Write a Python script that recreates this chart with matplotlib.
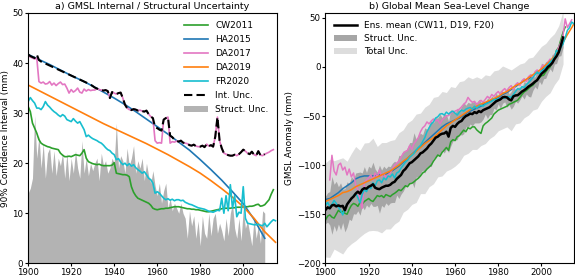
import numpy as np
import matplotlib
matplotlib.use('Agg')
import matplotlib.pyplot as plt

# ---------------- panel a) uncertainties (mm) ----------------
yrs_cw = np.arange(1900, 2015)
cw2011_unc = [31.3, 30.3, 28.0, 27.0, 26.0, 24.7, 24.0, 23.7, 23.5, 23.3,
              23.2, 23.0, 22.9, 22.8, 22.7, 22.0, 21.6, 21.3, 21.3, 21.4,
              21.3, 21.5, 21.7, 21.6, 21.5, 22.0, 22.7, 21.0, 20.3, 20.1,
              19.9, 19.8, 19.7, 19.8, 19.6, 19.5, 19.5, 19.5, 19.5, 19.6,
              20.1, 18.0, 17.9, 17.8, 17.7, 17.7, 17.6, 17.3, 15.3, 14.2,
              13.5, 13.0, 12.8, 12.6, 12.4, 12.2, 12.0, 11.6, 11.0, 10.8,
              10.7, 10.8, 10.9, 10.9, 11.0, 11.0, 11.1, 11.2, 11.3, 11.3,
              11.3, 11.2, 11.1, 11.0, 10.9, 10.9, 10.8, 10.8, 10.7, 10.7,
              10.6, 10.5, 10.4, 10.3, 10.3, 10.4, 10.5, 10.6, 10.7, 10.8,
              10.9, 11.0, 11.0, 11.0, 11.0, 11.1, 11.1, 11.2, 11.2, 11.2,
              11.3, 11.3, 11.3, 11.4, 11.4, 11.5, 11.7, 11.8, 11.4, 11.5,
              11.7, 12.2, 12.7, 13.8, 14.7]

yrs_ha = np.arange(1900, 2011, 5)
ha2015_unc = [41.7, 40.7, 39.7, 38.6, 37.5, 36.5, 35.4, 34.2, 33.0, 31.7,
              30.3, 28.8, 27.3, 25.8, 24.2, 22.6, 20.7, 18.7, 16.6, 14.3,
              11.9, 8.8, 5.0]

yrs_da17 = np.arange(1900, 2015)
da2017_unc = [41.5, 41.2, 41.0, 40.8, 41.0, 36.3, 36.0, 36.2, 35.8, 35.9,
              36.3, 35.6, 36.0, 35.5, 35.9, 36.2, 35.7, 35.8, 35.0, 34.0,
              34.7, 34.2, 34.5, 35.0, 34.2, 34.0, 34.8, 34.4, 34.7, 34.5,
              34.6, 34.6, 34.9, 34.7, 34.6, 34.5, 34.6, 34.4, 33.0, 34.2,
              34.0, 33.8, 34.0, 34.1, 33.0, 31.7, 31.0, 30.7, 30.6, 30.8,
              30.7, 30.5, 30.6, 30.4, 30.3, 30.5, 29.8, 29.3, 29.0, 24.5,
              24.0, 24.1, 24.0, 28.7, 29.0, 29.2, 24.0, 24.3, 24.2, 24.4,
              24.3, 24.5, 24.1, 24.0, 23.9, 23.6, 23.5, 23.7, 23.4, 23.3,
              23.3, 23.5, 23.2, 23.8, 23.4, 23.6, 23.3, 25.3, 29.2, 24.5,
              23.0, 22.0, 21.8, 21.6, 21.5, 21.5, 21.7, 21.5, 21.8, 22.2,
              22.7, 22.4, 22.0, 21.8, 22.3, 21.7, 21.5, 22.4, 21.6, 21.5,
              21.8, 22.0, 22.2, 22.5, 22.7]

yrs_da19 = np.arange(1900, 2016, 5)
da2019_unc = [35.6, 34.5, 33.4, 32.3, 31.2, 30.1, 29.0, 27.9, 26.9, 25.9,
              24.9, 23.9, 22.8, 21.7, 20.5, 19.3, 18.0, 16.5, 14.9, 13.2,
              11.3, 9.0, 6.3, 4.2]

yrs_fr = np.arange(1900, 2016)
fr2020_unc = [32.3, 33.1, 32.5, 32.0, 31.0, 31.0, 30.7, 31.3, 32.3, 31.6,
              31.2, 30.7, 30.3, 30.0, 29.6, 29.3, 29.7, 29.4, 28.7, 28.5,
              28.3, 28.9, 28.4, 28.0, 28.3, 27.5, 26.7, 25.3, 25.6, 25.2,
              24.9, 24.7, 24.5, 24.2, 24.0, 23.6, 23.1, 22.7, 22.5, 22.0,
              21.7, 20.7, 20.9, 20.2, 19.7, 20.0, 19.5, 19.9, 19.4, 19.7,
              19.1, 18.7, 18.4, 18.0, 18.3, 17.7, 17.0, 16.7, 16.0, 14.0,
              14.3, 14.0, 13.5, 13.0, 12.7, 12.9, 12.6, 12.8, 12.5, 12.7,
              12.7, 12.5, 12.6, 12.2, 12.0, 11.8, 11.7, 11.5, 11.3, 11.1,
              11.0, 10.9, 10.8, 10.6, 10.4, 10.3, 10.2, 10.4, 10.6, 10.5,
              13.0, 10.0, 13.5, 10.5, 15.7, 11.0, 13.5, 9.3, 10.2, 10.0,
              15.3, 9.0, 8.0, 7.9, 7.8, 7.7, 7.7, 7.8, 7.6, 7.5,
              8.0, 7.3, 7.8, 8.3, 8.7, 8.5]

yrs_int = np.arange(1900, 2011)
int_unc = [41.7, 41.4, 41.2, 41.0, 41.7, 40.6, 40.3, 40.1, 39.9, 39.7,
           39.5, 39.3, 39.1, 38.9, 38.7, 38.5, 38.3, 38.1, 37.9, 37.7,
           37.5, 37.3, 37.1, 36.9, 36.7, 36.5, 36.3, 36.1, 35.9, 35.7,
           35.4, 35.1, 34.9, 34.7, 34.6, 34.5, 34.6, 34.4, 33.0, 34.2,
           34.0, 33.8, 34.0, 34.1, 33.0, 31.7, 31.0, 30.7, 30.6, 30.8,
           30.7, 30.5, 30.6, 30.4, 30.3, 30.5, 29.8, 29.3, 29.0, 27.2,
           27.0, 26.7, 26.5, 28.7, 29.0, 29.2, 25.5, 25.2, 24.7, 24.5,
           24.3, 24.5, 24.1, 24.0, 23.9, 23.6, 23.5, 23.7, 23.4, 23.3,
           23.3, 23.5, 23.2, 23.8, 23.4, 23.6, 23.3, 25.3, 29.2, 24.5,
           23.0, 22.0, 21.8, 21.6, 21.5, 21.5, 21.7, 21.5, 21.8, 22.2,
           22.7, 22.4, 22.0, 21.8, 22.3, 21.7, 21.5, 22.4, 21.6, 21.5,
           21.8]

yrs_struct = np.arange(1900, 2011)
struct_unc = [14, 15, 17, 29.5, 21, 25.5, 19, 24, 17, 22,
              23, 18, 22.5, 17.5, 21, 19.5, 22, 17, 22, 16.5,
              21, 18, 22.5, 19, 17, 24.5, 18, 21, 17.5, 20,
              18.5, 20, 21, 16.5, 22, 19.5, 20.5, 18, 19, 21,
              20, 28, 19, 21.5, 20.5, 18, 23, 19.5, 21, 23.5,
              18, 20.5, 19, 21, 16.5, 20, 17.5, 16, 18.5, 15.5,
              13.5, 16, 12, 14.5, 16, 11, 13, 10.5, 12, 11,
              10, 12, 10, 9, 5, 10.5, 7.5, 9.5, 5, 8.5,
              3.5, 9.5, 6, 5, 10, 5.5, 9, 10, 6, 8,
              6.5, 4.5, 9, 5.5, 10, 12, 7, 5, 9, 4.5,
              11, 7, 8.5, 6, 3.5, 9, 5, 7.5, 4, 10.5, 10]

# ---------------- panel b) GMSL anomalies (mm) ----------------
yrs_mean = np.arange(1900, 2011)
ens_mean = [-145.6, -143, -144, -141, -140.5, -142, -141, -142, -141.5, -146,
            -140, -137, -134, -132, -129, -127, -129, -125, -123.5, -124,
            -122, -121, -119.5, -123, -124, -124.5, -123, -122, -121, -121,
            -120, -118, -117, -114, -112, -110, -106, -104, -101, -98,
            -97, -95, -93, -91, -88, -87, -85, -83, -80, -78,
            -75, -72, -71, -69, -68, -67.7, -66, -71, -62, -60,
            -61, -58, -56, -55, -52, -50, -49, -47.5, -48, -46,
            -47, -45, -46, -44, -43, -42, -41, -39, -37, -35,
            -34, -33, -31, -30.5, -31, -33, -34, -30, -29, -28.8,
            -27, -25, -23.7, -22, -20, -18.6, -17, -15, -13.5, -10,
            -7, -5, -3, 0, 1.7, 4, 8, 11, 15, 22, 30]

# total uncertainty half width, every second year
yrs_tot = np.arange(1900, 2011, 2)
total_hw = [48, 50, 45, 47, 49, 44, 46, 48, 44, 46,
            45, 47, 43, 46, 44, 45, 43, 45, 42, 44,
            43, 45, 41, 44, 42, 44, 41, 43, 40, 42,
            40, 41, 38, 39, 36, 37, 34, 35, 32, 33,
            31, 32, 30, 31, 29, 30, 28, 29, 27, 29,
            28, 27, 28, 26, 27, 27]

yrs_cw_b = np.arange(1900, 2012)
cw2011 = [-156, -152, -150.7, -153, -154, -150, -146, -148, -147, -149,
          -150, -145, -141, -139, -140, -142, -138, -140, -137, -135.5,
          -134, -136, -137, -134, -131, -132, -131, -133, -130, -131,
          -132, -130, -128.7, -127, -125, -126, -123.6, -121, -122, -119,
          -118.5, -117, -115, -113.4, -111, -108, -106.6, -104, -102, -99.9,
          -96, -93, -89.7, -91, -87, -84.6, -82, -85, -76.2, -74,
          -75, -71.1, -70, -67, -64.3, -66, -62, -63, -61, -61,
          -64, -66, -67.7, -60, -57.6, -56, -54, -52, -48, -46,
          -44, -43, -42, -41, -40, -38, -37.2, -36, -35, -33.8,
          -31, -28, -25.4, -24, -22, -20, -18.6, -16, -13, -11,
          -9, -8.4, -5, -2, 0, 5, 10, 17, 20, 28, 35, 40.7]

yrs_ha_b = np.arange(1900, 2011, 2)
ha2015 = [-135, -134, -131, -128, -124, -121, -118, -114, -112, -111,
          -111, -111, -110, -110, -109, -107, -104, -101, -97, -93,
          -89, -85, -81, -77, -73, -69, -65, -61, -58, -56,
          -54, -52, -49, -46, -44, -42, -40, -37, -35, -33,
          -31, -28, -26, -23, -20, -17, -14, -12, -9, -6,
          -3, 0, 5, 10, 17, 24]

yrs_da17_b = np.arange(1902, 2015)
da2017 = [-115, -90, -106, -110, -100, -98, -105, -102,
          -110, -104, -112, -108, -120, -125, -135, -144, -118, -115,
          -113, -110, -115, -108, -112, -105, -112, -108, -113, -110,
          -108, -104, -100, -98, -96, -92, -88, -86, -85, -80,
          -84, -78, -75, -72, -66, -62, -60, -56, -58, -55,
          -53, -55, -54, -58, -54, -52, -50, -49.5, -47, -46,
          -45, -44, -43, -40.7, -38, -36, -31, -34, -36, -35,
          -38, -36, -34, -36, -33, -30, -32, -28, -30, -27,
          -25, -28, -24, -22, -25, -21, -19, -23, -18, -16,
          -19, -14, -12, -15, -10, -8, -11, -5, -3, -6,
          0, 2, -1, 5, 8, 6, 12, 15, 20, 25,
          32, 49, 40, 44, 48]

yrs_da19_b = np.append(np.arange(1900, 2015, 2), 2015)
da2019 = [-137, -135, -133, -131, -128, -127, -125, -122, -120, -118,
          -116, -114, -112, -110, -108, -106, -103, -100, -96, -93,
          -89, -86, -82, -78, -75, -72, -68, -64, -60, -57,
          -54, -51, -48, -45, -42, -40, -38, -36, -34, -32,
          -30, -27, -25, -22, -19, -17, -14, -11, -8, -5,
          -2, 2, 6, 11, 17, 25, 33, 40, 44]

yrs_fr_b = np.arange(1900, 2016)
fr2020 = [-141, -138, -142, -140, -136, -139, -143, -146, -150.7, -144,
          -140, -137, -135, -131, -129, -133, -138.5, -130, -125, -127,
          -122, -124, -118, -121, -116, -115, -118, -113, -115, -111,
          -112, -109, -113, -108, -106.7, -103, -100, -97, -95, -92,
          -90, -88, -84.7, -82, -80, -76, -72, -66, -62, -58,
          -56, -52, -50.8, -48, -47.5, -49, -46, -48, -46, -45,
          -47, -49, -46, -44, -45, -43, -42, -41.3, -43, -40,
          -42, -40, -39, -40, -38, -37, -36, -35, -33, -34,
          -32.1, -33, -31, -32, -30, -30.5, -31, -28, -25, -22,
          -23, -20, -21, -18, -16, -13.5, -11, -8, -5, -7,
          -4, -3, 0, 2, 5, 7, 10, 17, 15, 20,
          23.7, 30, 37.3, 40, 45.8, 44]

c_green = '#2ca02c'
c_blue = '#1f77b4'
c_pink = '#e377c2'
c_orange = '#ff7f0e'
c_cyan = '#17becf'

plt.rcParams['font.size'] = 6.5
fig = plt.figure(figsize=(5.75, 2.76), dpi=100)
ax1 = fig.add_axes([0.049, 0.046, 0.432, 0.907])
ax2 = fig.add_axes([0.566, 0.046, 0.432, 0.907])

# panel a
ax1.fill_between(yrs_struct, 0, struct_unc, color='#b3b3b3', lw=0,
                 label='Struct. Unc.')
ax1.plot(yrs_cw, cw2011_unc, color=c_green, lw=1.2, label='CW2011')
ax1.plot(yrs_ha, ha2015_unc, color=c_blue, lw=1.2, label='HA2015')
ax1.plot(yrs_da17, da2017_unc, color=c_pink, lw=1.2, label='DA2017')
ax1.plot(yrs_da19, da2019_unc, color=c_orange, lw=1.2, label='DA2019')
ax1.plot(yrs_fr, fr2020_unc, color=c_cyan, lw=1.2, label='FR2020')
ax1.plot(yrs_int, int_unc, color='k', lw=1.5, ls=(0, (4, 2)),
         label='Int. Unc.')
ax1.set_xlim(1900, 2015.5)
ax1.set_ylim(0, 50)
ax1.set_xticks(range(1900, 2001, 20))
ax1.set_yticks(range(0, 51, 10))
ax1.set_title('a) GMSL Internal / Structural Uncertainty', fontsize=6.8,
              pad=3)
ax1.set_ylabel('90% Confidence Interval (mm)', fontsize=6.4, labelpad=2)
handles, labels = ax1.get_legend_handles_labels()
order = [1, 2, 3, 4, 5, 6, 0]
ax1.legend([handles[i] for i in order], [labels[i] for i in order],
           loc='upper right', frameon=False, fontsize=6.5, handlelength=2.6,
           labelspacing=0.55, borderaxespad=0.5)

# panel b
mean_arr = np.array(ens_mean)
mean_tot = mean_arr[::2]
ax2.fill_between(yrs_tot, mean_tot - np.array(total_hw),
                 mean_tot + np.array(total_hw), color='#dddddd', lw=0,
                 label='Total Unc.')
ax2.fill_between(yrs_mean, mean_arr - np.array(struct_unc),
                 mean_arr + np.array(struct_unc), color='#a6a6a6', lw=0,
                 label='Struct. Unc.')
ax2.plot(yrs_cw_b, cw2011, color=c_green, lw=1.1)
ax2.plot(yrs_ha_b, ha2015, color=c_blue, lw=1.1)
ax2.plot(yrs_da17_b, da2017, color=c_pink, lw=1.1)
ax2.plot(yrs_da19_b, da2019, color=c_orange, lw=1.1)
ax2.plot(yrs_fr_b, fr2020, color=c_cyan, lw=1.1)
ax2.plot(yrs_mean, ens_mean, color='k', lw=1.8,
         label='Ens. mean (CW11, D19, F20)')
ax2.set_xlim(1900, 2015)
ax2.set_ylim(-200, 55)
ax2.set_xticks(range(1900, 2001, 20))
ax2.set_yticks(range(-200, 51, 50))
ax2.set_title('b) Global Mean Sea-Level Change', fontsize=6.8, pad=3)
ax2.set_ylabel('GMSL Anomaly (mm)', fontsize=6.4, labelpad=2)
handles, labels = ax2.get_legend_handles_labels()
order = [2, 1, 0]
ax2.legend([handles[i] for i in order], [labels[i] for i in order],
           loc='upper left', frameon=False, fontsize=6.5, handlelength=2.6,
           labelspacing=0.45, borderaxespad=0.5)

for ax in (ax1, ax2):
    ax.tick_params(labelsize=6.2, length=2.5, pad=1)

fig.savefig('out.png', dpi=100)
